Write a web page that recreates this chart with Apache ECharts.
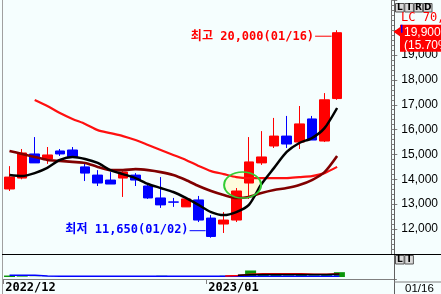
<!DOCTYPE html>
<html><head><meta charset="utf-8">
<script src="https://cdn.jsdelivr.net/npm/echarts@6/dist/echarts.min.js"></script>
<style>html,body{margin:0;padding:0;background:#f5fefe;}#c{width:441px;height:294px;}</style>
</head><body><div id="c"></div>
<script>
// ---- data ----
const dates = ['2022/12/08','2022/12/09','2022/12/12','2022/12/13','2022/12/14','2022/12/15','2022/12/16','2022/12/19','2022/12/20','2022/12/21','2022/12/22','2022/12/23','2022/12/26','2022/12/27','2022/12/28','2022/12/29',
  '2023/01/02','2023/01/03','2023/01/04','2023/01/05','2023/01/06','2023/01/09','2023/01/10','2023/01/11','2023/01/12','2023/01/13','2023/01/16'];
const opens  = [13610,14050,15020,14820,15140,15180,14500,14170,13970,14050,14170,13730,13250,13090,12890,13170,12440,12200,12360,13850,14660,15340,15740,15500,16430,15540,17250];
const closes = [14090,15060,14660,14980,15020,14900,14250,13850,13810,14290,13970,13250,12970,13080,13210,12360,11700,12360,13530,14700,14900,15740,15420,16230,15580,17200,19900];
const lows   = [13530,14000,14660,14620,14940,14860,13930,13730,13810,13290,13730,13210,12850,12890,12890,12280,11650,11840,12280,13210,14580,15260,15260,15220,15580,15500,17200];
const highs  = [14530,15220,15700,15300,15220,15300,14660,14370,14290,14330,14250,13810,14090,13250,13210,13330,12560,12680,13650,15700,15940,16470,16550,16950,16550,17470,20000];
const ma5  = [14170,14130,14250,14460,14780,14900,14820,14660,14370,14210,14050,13810,13650,13490,13250,12970,12680,12560,12680,12970,13810,14460,15100,15460,15660,16060,16870];
const ma20 = [15140,15020,14900,14780,14740,14700,14660,14500,14370,14370,14410,14370,14290,14170,13970,13730,13530,13370,13250,13290,13450,13570,13650,13770,13970,14290,14940];
const ma60 = [null,null,17190,16950,16670,16430,16230,15980,15860,15740,15580,15380,15180,14980,14780,14540,14330,14210,14090,14050,14050,14050,14050,14090,14130,14250,14500];
const volumes  = [7,3,1,1,1,1,1,1,1,1,1,1,6,1,1,1,1,6,8,31,15,10,8,10,8,10,23];
const volMaBlue  = [8,8,8,5,4,4,4,4,3,3,3,3,3,3,3,3,3,3,3,3,3,3,3,3,3,3,4];
const volMaRed   = [null,null,null,null,null,null,null,null,null,null,null,null,null,null,null,null,null,5,7,13,15,15,15,15,13,13,15];
const volMaBlack = [null,null,null,null,null,null,null,null,null,null,null,null,null,null,null,null,null,null,8,11,12,12,12,12,12,12,14];
const yTickValues = [12000,13000,14000,15000,16000,17000,18000,19000];
const changePctText = '(15.70%)';
const limitText = 'LC 70,000';

// ---- derived ----
const PAD = 4;
const cats = dates.concat(Array.from({length: PAD}, (_, k) => 'pad' + k));
const monthStarts = dates.map((d, i) => i).filter(i => i === 0 || dates[i].slice(0,7) !== dates[i-1].slice(0,7));
const monthLabel = {};
monthStarts.forEach(i => monthLabel[i] = dates[i].slice(0,7));
const fmt = v => String(v).replace(/\B(?=(\d{3})+(?!\d))/g, ',');
const last = dates.length - 1;

const chart = echarts.init(document.getElementById('c'), null, {renderer: 'canvas'});
const gridLeft = 3.2, gridWidth = 393.3;
const option = {
  animation: false,
  backgroundColor: '#f5fefe',
  grid: [
    {left: gridLeft, top: 0.4, width: gridWidth, height: 253.45},
    {left: gridLeft, top: 256, width: gridWidth, height: 24}
  ],
  xAxis: [
    {type: 'category', gridIndex: 0, data: cats, show: false},
    {type: 'category', gridIndex: 1, data: cats, show: false},
    {type: 'value', gridIndex: 1, min: 0, max: cats.length, position: 'bottom', offset: 2,
      axisLine: {show: true, lineStyle: {color: '#808080'}},
      axisTick: {show: true, customValues: monthStarts, length: 5, lineStyle: {color: '#808080'}},
      axisLabel: {show: true, customValues: monthStarts, formatter: v => monthLabel[v] || '', align: 'left', margin: 3, padding: [0,0,0,2],
        color: '#000', fontSize: 12, fontWeight: 'bold', fontFamily: '"DejaVu Sans Mono", monospace'},
      splitLine: {show: false}}
  ],
  yAxis: [
    {type: 'value', gridIndex: 0, position: 'right', min: 11000, max: 21200, interval: 1000, offset: -2.5,
      axisLine: {show: true, lineStyle: {color: '#707070'}},
      axisTick: {show: true, length: 6, lineStyle: {color: '#808080'}},
      minorTick: {show: true, splitNumber: 5, length: 3, lineStyle: {color: '#808080'}},
      axisLabel: {margin: 10, color: '#000', fontSize: 12, fontFamily: '"Liberation Sans", Arial, sans-serif',
        formatter: v => yTickValues.indexOf(v) >= 0 ? fmt(v) : ''},
      splitLine: {show: false}, minorSplitLine: {show: false}},
    {type: 'value', gridIndex: 1, min: 0, max: 100, show: false}
  ],
  series: [
    {type: 'candlestick', xAxisIndex: 0, yAxisIndex: 0, barWidth: 10,
      data: dates.map((d, i) => [opens[i], closes[i], lows[i], highs[i]]),
      itemStyle: {color: '#ff0000', color0: '#0000ff', borderColor: '#ff0000', borderColor0: '#0000ff', borderWidth: 1}},
    {type: 'line', name: 'MA60', xAxisIndex: 0, yAxisIndex: 0, data: ma60, showSymbol: false, smooth: 0.25,
      lineStyle: {color: '#ff1010', width: 2.2}},
    {type: 'line', name: 'MA20', xAxisIndex: 0, yAxisIndex: 0, data: ma20, showSymbol: false, smooth: 0.25,
      lineStyle: {color: '#800000', width: 2.6}},
    {type: 'line', name: 'MA5', xAxisIndex: 0, yAxisIndex: 0, data: ma5, showSymbol: false, smooth: 0.25,
      lineStyle: {color: '#000000', width: 2.5}},
    {type: 'bar', xAxisIndex: 1, yAxisIndex: 1, data: volumes, barWidth: 11, itemStyle: {color: '#0a960a'}},
    {type: 'line', xAxisIndex: 1, yAxisIndex: 1, data: volMaBlue, showSymbol: false, lineStyle: {color: '#0000ff', width: 1.5}},
    {type: 'line', xAxisIndex: 1, yAxisIndex: 1, data: volMaRed, showSymbol: false, lineStyle: {color: '#ff0000', width: 1.5}},
    {type: 'line', xAxisIndex: 1, yAxisIndex: 1, data: volMaBlack, showSymbol: false, lineStyle: {color: '#000000', width: 1.5}}
  ]
};
chart.setOption(option);

const px = (i, v) => chart.convertToPixel({gridIndex: 0}, [i, v]);
const els = [];
const line = (x1, y1, x2, y2, color, w) => els.push({type: 'line', z: 100, shape: {x1, y1, x2, y2}, style: {stroke: color, lineWidth: w || 1}});
const text = (t, x, y, o) => els.push({type: 'text', z: 101, style: Object.assign({text: t, x, y, textVerticalAlign: 'middle'}, o)});
// frame lines
line(2.5, 0, 2.5, 294, '#a0a0a0');
line(394.5, 0, 394.5, 294, '#606060');
line(2, 254.5, 441, 254.5, '#000000');
line(394, 282, 441, 282, '#808080');
// top-right LIRD buttons
const box = (letters, x0, y0) => letters.forEach((ch, k) => {
  els.push({type: 'rect', z: 100, shape: {x: x0 + k * 9.3, y: y0, width: 8.6, height: 8.5}, style: {fill: '#d8d8d8', stroke: '#555', lineWidth: 1}});
  text(ch, x0 + k * 9.3 + 4.3, y0 + 4.6, {fill: '#000', font: 'bold 9px "DejaVu Sans", sans-serif', textAlign: 'center'});
});
box(['L','I','R','D'], 395.5, 3.5);
box(['L','I'], 395.5, 255.5);
text(limitText, 401, 18, {fill: '#ff0000', font: '12px "DejaVu Sans Mono", monospace', textAlign: 'left'});
// current price tag
const pc = px(last, closes[last]);
const yc = pc[1];
els.push({type: 'polygon', z: 100, shape: {points: [[393.5, yc - 1], [400.5, yc - 6], [400.5, yc + 4]]}, style: {fill: '#ff0000'}});
els.push({type: 'rect', z: 100, shape: {x: 400, y: yc - 8, width: 45, height: 27}, style: {fill: '#ff0000'}});
els.push({type: 'rect', z: 101, shape: {x: 401, y: yc - 8, width: 1.5, height: 8}, style: {fill: '#0000ff'}});
text(fmt(closes[last]), 404, yc, {fill: '#fff', font: '12px "Liberation Sans", Arial, sans-serif', textAlign: 'left'});
text(changePctText, 404, yc + 13, {fill: '#fff', font: '12px "Liberation Sans", Arial, sans-serif', textAlign: 'left'});
// bottom right current date
text(dates[last].slice(5), 405, 288.5, {fill: '#000', font: '11.5px "Liberation Sans", Arial, sans-serif', textAlign: 'left'});
// high / low annotations
const annFont = 'bold 12px "DejaVu Sans Mono", "Noto Sans CJK KR", monospace';
const hiIdx = highs.indexOf(Math.max(...highs));
const loIdx = lows.indexOf(Math.min(...lows));
const ph = px(hiIdx, highs[hiIdx]);
line(ph[0] - 22, ph[1] + 6, ph[0] - 5.5, ph[1] + 6, '#ff0000', 1);
text('최고 ' + fmt(highs[hiIdx]) + '(' + dates[hiIdx].slice(5) + ')', ph[0] - 23, ph[1] + 6.5, {fill: '#ff0000', font: annFont, textAlign: 'right'});
const pl = px(loIdx, lows[loIdx]);
line(pl[0] - 21.5, pl[1] - 7, pl[0] - 5.5, pl[1] - 7, '#0000ff', 1);
text('최저 ' + fmt(lows[loIdx]) + '(' + dates[loIdx].slice(5) + ')', pl[0] - 22.5, pl[1] - 8, {fill: '#0000ff', font: annFont, textAlign: 'left' === 'x' ? 'left' : 'right'});
// highlight ellipse around the breakout candles
const e1 = px(18, 13770), e2 = px(19, 13770);
const ecx = (e1[0] + e2[0]) / 2, ecy = e1[1];
els.push({type: 'circle', z: 1, x: ecx, y: ecy, scaleY: 13 / 18.5, shape: {cx: 0, cy: 0, r: 18.5}, style: {fill: 'rgba(255,250,215,0.85)'}});
els.push({type: 'circle', z: 100, x: ecx, y: ecy, scaleY: 13 / 18.5, shape: {cx: 0, cy: 0, r: 18.5}, style: {fill: 'none', stroke: '#33cc33', lineWidth: 2, strokeNoScale: true}});
chart.setOption({graphic: {elements: els}});
</script>
</body></html>
